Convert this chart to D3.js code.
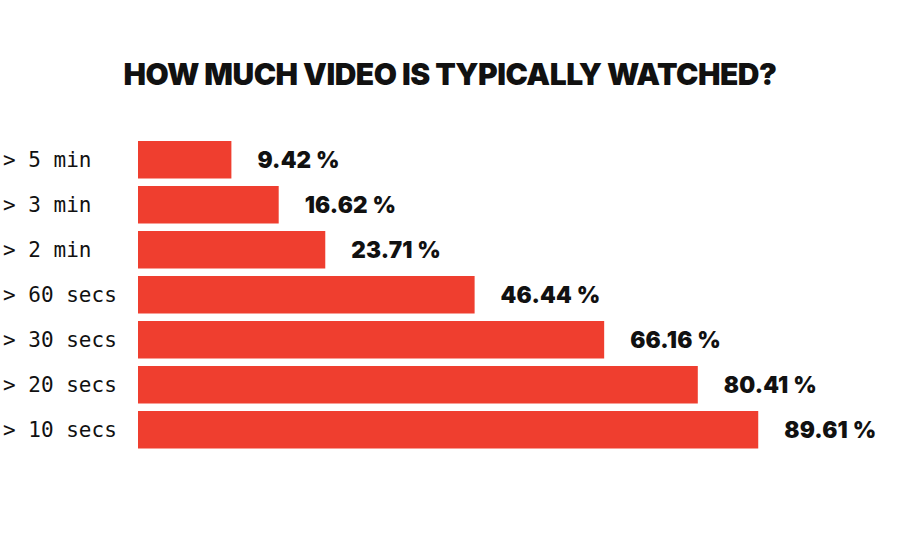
<!DOCTYPE html>
<html lang="en">
<head>
    <meta charset="UTF-8">
    <title>How much video is typically watched</title>
    <script src="https://cdnjs.cloudflare.com/ajax/libs/d3/7.8.5/d3.min.js"></script>
    <style>
        body { margin: 0; background: #fff; }
        svg { display: block; }
    </style>
</head>
<body>
<svg width="900" height="550"></svg>

<script>
    // data
    const categories = ["> 5 min", "> 3 min", "> 2 min", "> 60 secs", "> 30 secs", "> 20 secs", "> 10 secs"];
    const watched = [9.42, 16.62, 23.71, 46.44, 66.16, 80.41, 89.61];
    const titleText = "HOW MUCH VIDEO IS TYPICALLY WATCHED?";

    const svg = d3.select("svg");
    const barLeft = 138;

    // bars start with a small stub, so zero sits a little right of the bar start
    const x = d3.scaleLinear()
        .domain([0, 100])
        .range([barLeft + 31.5, barLeft + 31.5 + 657]);

    const y = d3.scaleBand()
        .domain(categories)
        .range([141, 448.5])
        .paddingInner(0.1667)
        .paddingOuter(0);

    svg.append("text")
        .attr("x", 450)
        .attr("y", 85)
        .attr("text-anchor", "middle")
        .attr("font-family", "Inter, 'Open Sans', sans-serif")
        .attr("font-weight", 900)
        .attr("font-size", 30)
        .attr("letter-spacing", -0.5)
        .attr("fill", "#111")
        .text(titleText);

    const rows = svg.append("g")
        .selectAll("g")
        .data(categories.map((c, i) => ({ cat: c, value: watched[i] })))
        .enter()
        .append("g");

    rows.append("rect")
        .attr("x", barLeft)
        .attr("y", d => y(d.cat))
        .attr("width", d => x(d.value) - barLeft)
        .attr("height", y.bandwidth())
        .attr("fill", "#ef3e2f");

    rows.append("text")
        .attr("x", 3)
        .attr("y", d => y(d.cat) + y.bandwidth() / 2)
        .attr("dy", "0.36em")
        .attr("font-family", "'DejaVu Sans Mono', monospace")
        .attr("font-size", 21)
        .attr("fill", "#111")
        .text(d => d.cat);

    rows.append("text")
        .attr("x", d => x(d.value) + 26)
        .attr("y", d => y(d.cat) + y.bandwidth() / 2)
        .attr("dy", "0.36em")
        .attr("font-family", "Inter, 'Open Sans', sans-serif")
        .attr("font-weight", 900)
        .attr("font-size", 22.5)
        .attr("letter-spacing", 0.2)
        .attr("fill", "#111")
        .text(d => d.value.toFixed(2) + " %");
</script>
</body>
</html>
